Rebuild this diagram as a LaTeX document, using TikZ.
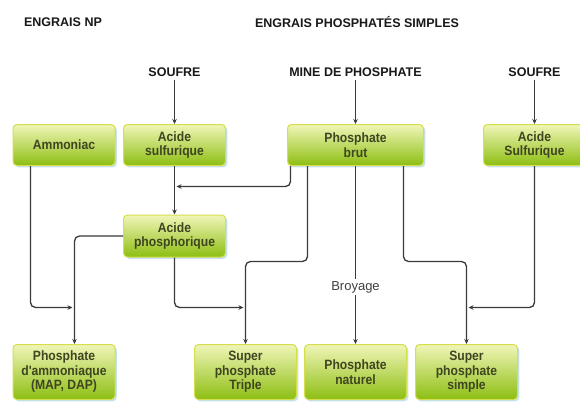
\documentclass[tikz,border=0pt]{standalone}
\usepackage{fontspec}
\setmainfont{Liberation Sans}
\newfontfamily\boxfont[FakeStretch=0.9]{Liberation Sans}
\usetikzlibrary{arrows.meta,shadows}
\definecolor{boxtop}{HTML}{F0F6B8}
\definecolor{boxbot}{HTML}{8DBE12}
\definecolor{boxline}{HTML}{D6DE4E}
\definecolor{glow}{HTML}{C4E2F2}
\definecolor{txt}{HTML}{3E4520}
\definecolor{ln}{HTML}{3A3A3A}
\begin{document}
\begin{tikzpicture}[x=1pt,y=-1pt,
 box/.style={draw=boxline, line width=1pt, rounded corners=4pt, top color=boxtop, bottom color=boxbot,
   minimum width=102pt, minimum height=41pt, inner sep=0pt, align=center,
   font=\boxfont\fontsize{13.5}{14.5}\selectfont\bfseries, text=txt,
   general shadow={shadow xshift=1.8pt, shadow yshift=-1.8pt, fill=glow}},
 ttl/.style={font=\fontsize{12.5}{14}\selectfont\bfseries, text=black!90},
 arr/.style={draw=ln, line width=1.3pt, rounded corners=5pt, -{Stealth[length=5pt,width=4.5pt]}},
 lab/.style={font=\fontsize{13}{15}\selectfont, text=black!75, fill=white, inner sep=2pt},
]
\fill[white] (0,0) rectangle (580,401);
\useasboundingbox (0,0) rectangle (580,401);

% titles
\node[ttl] (tnp) at (63,22) {ENGRAIS NP};
\node[ttl] (tps) at (357,22) {ENGRAIS PHOSPHATÉS SIMPLES};
\node[ttl] (s1) at (174.5,72) {SOUFRE};
\node[ttl] (mine) at (355.5,72) {MINE DE PHOSPHATE};
\node[ttl] (s2) at (534.5,72) {SOUFRE};

% boxes row 1
\node[box] (amm) at (64,145) {Ammoniac};
\node[box] (as1) at (174.5,145) {Acide\\sulfurique};
\node[box, minimum width=136pt] (pb) at (355.5,145) {Phosphate\\brut};
\node[box] (as2) at (534.5,145) {Acide\\Sulfurique};
% middle
\node[box, minimum height=42pt] (aph) at (174.5,236) {Acide\\phosphorique};
% bottom
\node[box, minimum height=55pt] (pam) at (64,372) {Phosphate\\d'ammoniaque\\(MAP, DAP)};
\node[box, minimum height=55pt] (spt) at (245.5,372) {Super\\phosphate\\Triple};
\node[box, minimum height=55pt] (pn) at (355.5,372) {Phosphate\\naturel};
\node[box, minimum height=55pt] (sps) at (466.5,372) {Super\\phosphate\\simple};

% helper coordinates
\coordinate (j1) at (176.5,186.5);
\coordinate (b1) at (307.5,261.5);
\coordinate (b2) at (403.5,261.5);
\coordinate (j2) at (468.5,307.5);
\coordinate (a1) at (30.5,307.5);
\coordinate (j3) at (72.5,307.5);
\coordinate (c1) at (74.5,237.5);
\coordinate (j4) at (243.5,307.5);
\coordinate (x0) at (290.5,0);

% connectors
\draw[arr] (s1) -- (as1);
\draw[arr] (mine) -- (pb);
\draw[arr] (s2) -- (as2);
\draw[arr] (as1) -- (aph);
\draw[arr] (x0 |- pb.south) |- (j1);
\draw[arr] (b1 |- pb.south) -- (b1) -| (spt.north);
\draw[arr] (pb) -- (pn);
\node[lab] (broy) at (355.5,287) {Broyage};
\draw[arr] (b2 |- pb.south) -- (b2) -| (sps.north);
\draw[arr] (as2.south) |- (j2);
\draw[arr] (a1 |- amm.south) |- (j3);
\draw[arr] (aph.west) -| (c1 |- pam.north);
\draw[arr] (aph.south) |- (j4);
\end{tikzpicture}
\end{document}
